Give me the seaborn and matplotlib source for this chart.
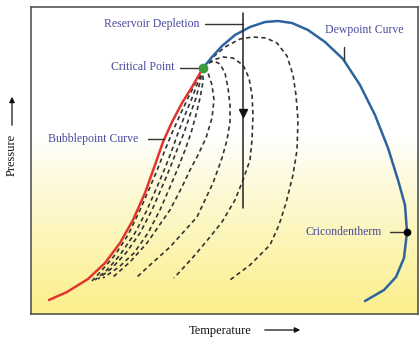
import numpy as np
import pandas as pd
import matplotlib
matplotlib.use("Agg")
import matplotlib.pyplot as plt
from matplotlib.colors import LinearSegmentedColormap
import seaborn as sns

# Phase envelope (arbitrary temperature / pressure units)
bubble_T = [18, 36, 57, 74, 89, 102, 114, 124, 132, 141, 151, 161, 172]
bubble_P = [14, 22, 35, 51, 71, 94, 121, 149, 172, 192, 211, 227, 246]

dew_T = [172, 181, 191, 204, 219, 234, 247, 261, 277, 294, 312, 329, 344, 357,
         367, 374, 376, 373, 365, 353, 334]
dew_P = [246, 257, 268, 279, 287, 292, 293, 291, 284, 272, 255, 229, 199, 166,
         134, 109, 82, 56, 37, 24, 13]

critical_point = (172, 246)
cricondentherm = (376, 82)

# Quality lines inside the two-phase region
quality_lines = {
    "q1": ([172, 165, 157, 149, 141, 134, 127, 119, 109, 97, 84, 72, 61],
           [246, 232, 216, 199, 181, 164, 146, 127, 104, 79, 59, 45, 33]),
    "q2": ([172, 167, 161, 154, 147, 141, 134, 126, 116, 104, 89, 76, 64],
           [246, 232, 216, 199, 181, 164, 146, 127, 104, 81, 59, 44, 34]),
    "q3": ([172, 169, 165, 159, 153, 146, 139, 131, 121, 109, 95, 81, 67],
           [246, 232, 216, 199, 181, 164, 146, 127, 104, 81, 61, 46, 35]),
    "q4": ([172, 172, 169, 165, 160, 154, 147, 139, 129, 117, 103, 88, 72],
           [246, 232, 216, 199, 181, 164, 146, 127, 104, 81, 61, 47, 36]),
    "q5": ([172, 177, 181, 183, 181, 175, 167, 159, 151, 139, 116, 99, 82],
           [246, 241, 229, 214, 196, 176, 159, 144, 127, 104, 71, 52, 37]),
    "q6": ([172, 177, 183, 189, 194, 197, 199, 199, 196, 191, 182, 166, 139, 119, 105],
           [246, 251, 253, 250, 241, 226, 209, 192, 174, 156, 131, 97, 67, 49, 36]),
    "q7": ([172, 182, 192, 202, 212, 218, 221, 222, 221, 219, 212, 204, 191, 179, 164, 143],
           [246, 254, 257, 256, 249, 236, 219, 199, 174, 154, 134, 114, 92, 77, 59, 36]),
    "q8": ([172, 181, 194, 209, 222, 235, 246, 256, 262, 265, 267, 266, 262, 255, 248, 239, 219, 199],
           [246, 256, 267, 275, 277, 276, 271, 258, 239, 219, 194, 164, 139, 111, 89, 69, 49, 34]),
}

# Depletion path (constant temperature)
depletion_T = 212
depletion_P = [301, 106]

label_color = "#4a4a9e"
serif = ["Liberation Serif", "DejaVu Serif"]

sns.set_theme(style="white")
plt.rcParams["font.family"] = serif

fig = plt.figure(figsize=(4.2, 3.37), dpi=100)
ax = fig.add_axes([31 / 420, 23 / 337, 387 / 420, 307 / 337])
ax.set_xlim(0, 387)
ax.set_ylim(0, 307)

# White-to-yellow background
ys = np.linspace(0, 1, 256)[:, None]
frac = np.clip((0.58 - ys) / 0.58, 0, 1) ** 0.9
cmap = LinearSegmentedColormap.from_list("bg", ["#ffffff", "#fbef8c"])
ax.imshow(frac, extent=(0, 387, 0, 307), origin="lower", aspect="auto",
          cmap=cmap, vmin=0, vmax=1, zorder=0)

for name, (qt, qp) in quality_lines.items():
    sns.lineplot(x=qt, y=qp, sort=False, estimator=None, ax=ax,
                 color="#333333", linewidth=1.2, linestyle=(0, (2.6, 2.0)), zorder=2)

sns.lineplot(x=bubble_T, y=bubble_P, sort=False, estimator=None, ax=ax,
             color="#e0362c", linewidth=1.8, zorder=3)
sns.lineplot(x=dew_T, y=dew_P, sort=False, estimator=None, ax=ax,
             color="#2d64a0", linewidth=1.8, zorder=3)

ax.plot(*critical_point, "o", color="#3d9b3d", markersize=6, zorder=5)
ax.plot(*cricondentherm, "o", color="black", markersize=4.5, zorder=5)

# Depletion line with arrow
ax.plot([depletion_T, depletion_T], depletion_P, color="#222222", linewidth=1.1, zorder=4)
ax.plot(depletion_T, 201, marker="v", color="#111111", markersize=6, zorder=5)

lead = dict(color="#333333", linewidth=1.0, zorder=4)
ax.plot([174, depletion_T], [290, 290], **lead)
ax.plot([149, 172], [246, 246], **lead)
ax.plot([117, 133], [175, 175], **lead)
ax.plot([313, 313], [254, 267], **lead)
ax.plot([359, 375], [82, 82], **lead)

fs = 8.5
ax.text(169, 290, "Reservoir Depletion", ha="right", va="center", fontsize=fs, color=label_color)
ax.text(144, 247, "Critical Point", ha="right", va="center", fontsize=fs, color=label_color)
ax.text(107, 175, "Bubblepoint Curve", ha="right", va="center", fontsize=fs, color=label_color)
ax.text(333, 284, "Dewpoint Curve", ha="center", va="center", fontsize=fs, color=label_color)
ax.text(351, 82, "Cricondentherm", ha="right", va="center", fontsize=fs, color=label_color)

ax.set_xticks([])
ax.set_yticks([])
for s in ax.spines.values():
    s.set_color("#555555")
    s.set_linewidth(1.2)

# Axis titles with arrows
fig.text(220 / 420, 1 - 331 / 337, "Temperature", ha="center", va="center", fontsize=9, color="#111111")
fig.add_artist(matplotlib.patches.FancyArrowPatch(
    (262 / 420, 1 - 330 / 337), (303 / 420, 1 - 330 / 337), transform=fig.transFigure,
    arrowstyle="-|>", mutation_scale=8, color="#111111", linewidth=0.9))
fig.text(12 / 420, 1 - 155 / 337, "Pressure", ha="center", va="center", rotation=90,
         fontsize=9, color="#111111")
fig.add_artist(matplotlib.patches.FancyArrowPatch(
    (12 / 420, 1 - 128 / 337), (12 / 420, 1 - 94 / 337), transform=fig.transFigure,
    arrowstyle="-|>", mutation_scale=8, color="#111111", linewidth=0.9))

fig.savefig("out.png", dpi=100)
